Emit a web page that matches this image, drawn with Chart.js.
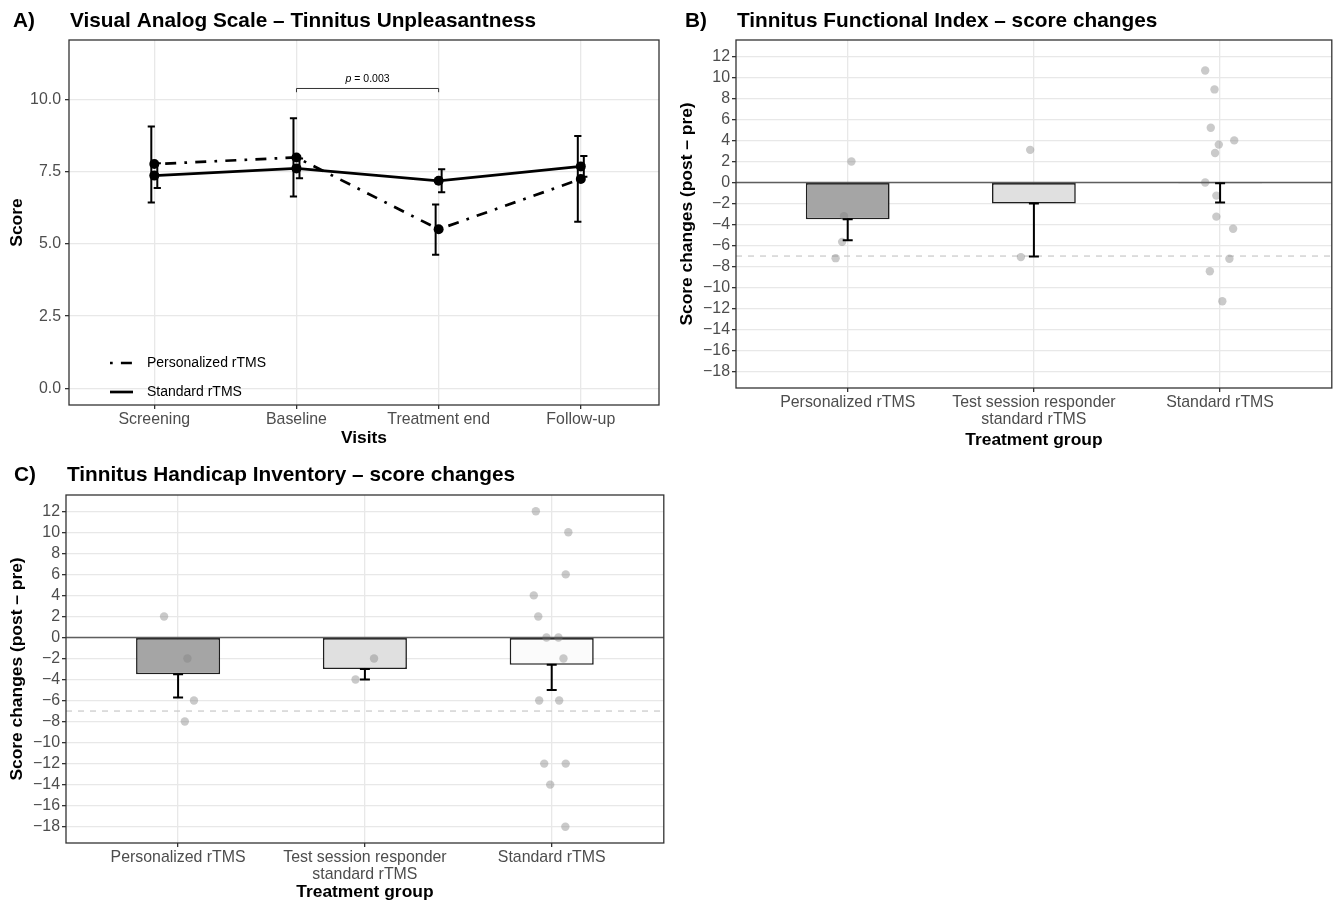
<!DOCTYPE html>
<html>
<head>
<meta charset="utf-8">
<script src="https://cdn.jsdelivr.net/npm/chart.js@4.4.1/dist/chart.umd.min.js"></script>
<style>
    body { margin: 0; background: #fff; width: 1336px; height: 904px; position: relative; overflow: hidden; }
    canvas { position: absolute; }
</style>
</head>
<body>
<canvas id="vasChart" width="668" height="452" style="left:0;top:0"></canvas>
<canvas id="tfiChart" width="668" height="452" style="left:668px;top:0"></canvas>
<canvas id="thiChart" width="668" height="452" style="left:0;top:452px"></canvas>
<script>
// ---- A) VAS unpleasantness: mean with error bars per visit ----
const visits = ['Screening', 'Baseline', 'Treatment end', 'Follow-up'];
const persMean = [7.77, 8.00, 5.51, 7.25];
const persLow  = [6.44, 6.65, 4.63, 5.77];
const persHigh = [9.07, 9.36, 6.37, 8.74];
const stdMean  = [7.37, 7.62, 7.19, 7.69];
const stdLow   = [6.94, 7.28, 6.79, 7.33];
const stdHigh  = [7.80, 7.96, 7.59, 8.05];
const vasTicks = [0, 2.5, 5, 7.5, 10];

// ---- B) / C) score changes per treatment group ----
const groups = ['Personalized rTMS', ['Test session responder', 'standard rTMS'], 'Standard rTMS'];
const changeTicks = [-18, -16, -14, -12, -10, -8, -6, -4, -2, 0, 2, 4, 6, 8, 10, 12];
const responderCut = -7;

const tfiMean = [-3.5, -2.0, -0.07];
const tfiLow  = [-5.5, -7.05, -1.9];
const tfiPoints = [
    [2.0, -3.2, -5.65, -7.2],
    [3.1, -7.1],
    [10.65, 8.85, 5.2, 3.6, 4.0, 2.8, 0.0, -1.25, -3.25, -4.4, -7.25, -8.45, -11.3]
];
const tfiJitter = [
    [0.02, -0.02, -0.03, -0.065],
    [-0.02, -0.07],
    [-0.08, -0.03, -0.05, -0.007, 0.076, -0.027, -0.08, -0.02, -0.02, 0.07, 0.05, -0.055, 0.012]
];

const thiMean = [-3.5, -3.0, -2.6];
const thiLow  = [-5.7, -4.0, -5.0];
const thiPoints = [
    [2, -2, -6, -8],
    [-2, -4],
    [12, 10, 6, 4, 2, 0, 0, -2, -6, -6, -12, -12, -14, -18]
];
const thiJitter = [
    [-0.075, 0.05, 0.085, 0.036],
    [0.049, -0.05],
    [-0.085, 0.089, 0.075, -0.096, -0.072, -0.028, 0.036, 0.063, -0.067, 0.04, -0.04, 0.075, -0.008, 0.073]
];

Chart.defaults.font.family = '"Liberation Sans", Arial, sans-serif';
Chart.defaults.animation = false;

const tickFont = { size: 15.9, lineHeight: 1.07 };
const tickColor = '#4D4D4D';
const titleFont = { size: 17.4, weight: 'bold' };
const gridStyle = { color: '#E8E8E8', lineWidth: 1.3, tickColor: '#333', tickLength: 4, offset: false };
const minus = v => (v < 0 ? '\u2212' + Math.abs(v) : String(v));

// frame, titles, zero line, error bars, bracket and inside legend
const decorations = {
    id: 'decorations',
    afterDatasetsDraw(chart, args, o) {
        const { ctx, chartArea: a, scales: { x, y } } = chart;
        ctx.save();
        if (o.zeroLine) {
            const py = y.getPixelForValue(0);
            ctx.strokeStyle = '#5e5e5e';
            ctx.lineWidth = 1.6;
            ctx.beginPath(); ctx.moveTo(a.left, py); ctx.lineTo(a.right, py); ctx.stroke();
        }
        chart.data.datasets.forEach((ds, di) => {
            if (!ds.errLow) return;
            const meta = chart.getDatasetMeta(di);
            ctx.strokeStyle = '#000';
            ctx.lineWidth = o.errWidth;
            ctx.setLineDash([]);
            meta.data.forEach((el, i) => {
                const px = el.x + (ds.errDodge || 0);
                const y1 = y.getPixelForValue(ds.errLow[i]);
                const y2 = y.getPixelForValue(ds.errHigh[i]);
                const c = o.capHalf;
                ctx.beginPath();
                ctx.moveTo(px, y1); ctx.lineTo(px, y2);
                ctx.moveTo(px - c, y1); ctx.lineTo(px + c, y1);
                ctx.moveTo(px - c, y2); ctx.lineTo(px + c, y2);
                ctx.stroke();
            });
        });
        if (o.bracket) {
            const b = o.bracket;
            const x1 = x.getPixelForValue(b.from), x2 = x.getPixelForValue(b.to);
            const yb = y.getPixelForValue(b.level), yt = y.getPixelForValue(b.level - b.drop);
            ctx.strokeStyle = '#333';
            ctx.lineWidth = 1;
            ctx.beginPath();
            ctx.moveTo(x1, yt); ctx.lineTo(x1, yb); ctx.lineTo(x2, yb); ctx.lineTo(x2, yt);
            ctx.stroke();
            ctx.fillStyle = '#000';
            ctx.textBaseline = 'middle';
            ctx.font = 'italic 10.5px "Liberation Sans"';
            const wp = ctx.measureText('p').width;
            ctx.font = '10.5px "Liberation Sans"';
            const rest = ' = ' + b.text;
            const wr = ctx.measureText(rest).width;
            const sx = (x1 + x2) / 2 - (wp + wr) / 2;
            ctx.font = 'italic 10.5px "Liberation Sans"';
            ctx.fillText('p', sx, yb - 9);
            ctx.font = '10.5px "Liberation Sans"';
            ctx.fillText(rest, sx + wp, yb - 9);
        }
        if (o.legend) {
            ctx.textBaseline = 'middle';
            ctx.font = '14px "Liberation Sans"';
            o.legend.forEach((item, k) => {
                const ds = chart.data.datasets[item];
                const ly = a.bottom - 42 + k * 29;
                const lx = a.left + 41;
                ctx.strokeStyle = '#000';
                ctx.lineWidth = ds.borderWidth;
                ctx.setLineDash(ds.borderDash || []);
                ctx.beginPath(); ctx.moveTo(lx, ly); ctx.lineTo(lx + 23, ly); ctx.stroke();
                ctx.setLineDash([]);
                ctx.fillStyle = '#000';
                ctx.fillText(ds.label, lx + 37, ly);
            });
        }
        ctx.restore();
    },
    afterDraw(chart, args, o) {
        const { ctx, chartArea: a } = chart;
        ctx.save();
        ctx.strokeStyle = '#333';
        ctx.lineWidth = 1.3;
        ctx.strokeRect(a.left, a.top, a.right - a.left, a.bottom - a.top);
        ctx.fillStyle = '#000';
        ctx.textBaseline = 'middle';
        ctx.font = 'bold 20.8px "Liberation Sans"';
        ctx.fillText(o.tag, o.tagX, o.titleY);
        ctx.fillText(o.title, a.left + 1, o.titleY);
        ctx.restore();
    }
};

function fixTicks(values) {
    return scale => { scale.ticks = values.map(v => ({ value: v })); };
}

// ------------------ A) ------------------
new Chart(document.getElementById('vasChart'), {
    type: 'line',
    data: {
        datasets: [
            {
                label: 'Personalized rTMS',
                data: persMean.map((v, i) => ({ x: i, y: v })),
                borderColor: '#000',
                borderWidth: 2.7,
                borderDash: [2.7, 8.2, 11, 8.2],
                pointRadius: 5,
                pointBorderWidth: 0,
                pointBackgroundColor: '#000',
                errLow: persLow, errHigh: persHigh, errDodge: -3
            },
            {
                label: 'Standard rTMS',
                data: stdMean.map((v, i) => ({ x: i, y: v })),
                borderColor: '#000',
                borderWidth: 2.7,
                pointRadius: 5,
                pointBorderWidth: 0,
                pointBackgroundColor: '#000',
                errLow: stdLow, errHigh: stdHigh, errDodge: 3
            }
        ]
    },
    options: {
        responsive: false,
        devicePixelRatio: 1,
        layout: { padding: { top: 40, right: 9, left: 0, bottom: 0 } },
        plugins: {
            legend: { display: false },
            tooltip: { enabled: false },
            decorations: {
                tag: 'A)', tagX: 13, titleY: 21, title: 'Visual Analog Scale \u2013 Tinnitus Unpleasantness',
                errWidth: 2, capHalf: 3.6,
                bracket: { from: 1, to: 2, level: 10.39, drop: 0.13, text: '0.003' },
                legend: [0, 1]
            }
        },
        scales: {
            x: {
                type: 'linear', min: -0.6, max: 3.55,
                afterBuildTicks: fixTicks([0, 1, 2, 3]),
                afterFit: s => { s.height = 47; },
                grid: gridStyle,
                border: { display: false },
                ticks: { font: tickFont, color: tickColor, padding: 2.5, maxRotation: 0, callback: v => visits[v] },
                title: { display: true, text: 'Visits', font: titleFont, color: '#000', padding: { top: 0, bottom: 3 } }
            },
            y: {
                min: -0.58, max: 12.07,
                afterBuildTicks: fixTicks(vasTicks),
                afterFit: s => { s.width = 69; },
                grid: gridStyle,
                border: { display: false },
                ticks: { font: tickFont, color: tickColor, padding: 4, callback: v => v.toFixed(1) },
                title: { display: true, text: 'Score', font: titleFont, color: '#000', padding: { top: 7, bottom: 0 } }
            }
        }
    },
    plugins: [decorations]
});

// ------------------ B) and C) ------------------
function jitterPoints(values, jitter) {
    return values.flatMap((vals, g) => vals.map((v, k) => ({ x: g + jitter[g][k], y: v })));
}

function changeChart(id, means, lows, points, jitter, deco, geom) {
    new Chart(document.getElementById(id), {
        type: 'bar',
        data: {
            datasets: [
                {
                    type: 'line',
                    data: jitterPoints(points, jitter),
                    showLine: false,
                    pointRadius: 4.2,
                    pointBorderWidth: 0,
                    pointBackgroundColor: 'rgba(128,128,128,0.42)',
                    order: 1
                },
                {
                    type: 'bar',
                    data: means.map((v, i) => ({ x: i, y: v })),
                    backgroundColor: ['#A5A5A5', '#E0E0E0', '#FBFBFB'],
                    borderColor: '#1f1f1f',
                    borderWidth: 1.6,
                    borderSkipped: false,
                    barPercentage: 0.45,
                    categoryPercentage: 1,
                    errLow: lows, errHigh: means,
                    order: 2
                },
                {
                    type: 'line',
                    data: [{ x: -0.6, y: responderCut }, { x: 2.6, y: responderCut }],
                    borderColor: '#CCCCCC',
                    borderWidth: 1.3,
                    borderDash: [6, 6],
                    pointRadius: 0,
                    order: 3
                }
            ]
        },
        options: {
            responsive: false,
            devicePixelRatio: 1,
            layout: { padding: { top: geom.top, right: geom.right, left: 0, bottom: 0 } },
            plugins: {
                legend: { display: false },
                tooltip: { enabled: false },
                decorations: Object.assign({ zeroLine: true, errWidth: 2, capHalf: 5 }, deco)
            },
            scales: {
                x: {
                    type: 'linear', min: -0.6, max: 2.6, offset: false,
                    afterBuildTicks: fixTicks([0, 1, 2]),
                    afterFit: s => { s.height = geom.xh; },
                    grid: gridStyle,
                    border: { display: false },
                    ticks: { font: tickFont, color: tickColor, padding: 2, maxRotation: 0, callback: v => groups[v] },
                    title: { display: true, text: 'Treatment group', font: titleFont, color: '#000', padding: { top: 0, bottom: 1 } }
                },
                y: {
                    min: -19.55, max: 13.55,
                    afterBuildTicks: fixTicks(changeTicks),
                    afterFit: s => { s.width = geom.left; },
                    grid: gridStyle,
                    border: { display: false },
                    ticks: { font: tickFont, color: tickColor, padding: 2, callback: minus },
                    title: { display: true, text: 'Score changes (post \u2013 pre)', font: titleFont, color: '#000', padding: { top: geom.ytp, bottom: 0 } }
                }
            }
        },
        plugins: [decorations]
    });
}

changeChart('tfiChart', tfiMean, tfiLow, tfiPoints, tfiJitter,
    { tag: 'B)', tagX: 17, titleY: 21, title: 'Tinnitus Functional Index \u2013 score changes' },
    { top: 40, right: 4, left: 68, xh: 64, ytp: 9 });

changeChart('thiChart', thiMean, thiLow, thiPoints, thiJitter,
    { tag: 'C)', tagX: 14, titleY: 23, title: 'Tinnitus Handicap Inventory \u2013 score changes' },
    { top: 43, right: 1, left: 66, xh: 61, ytp: 7 });
</script>
</body>
</html>
